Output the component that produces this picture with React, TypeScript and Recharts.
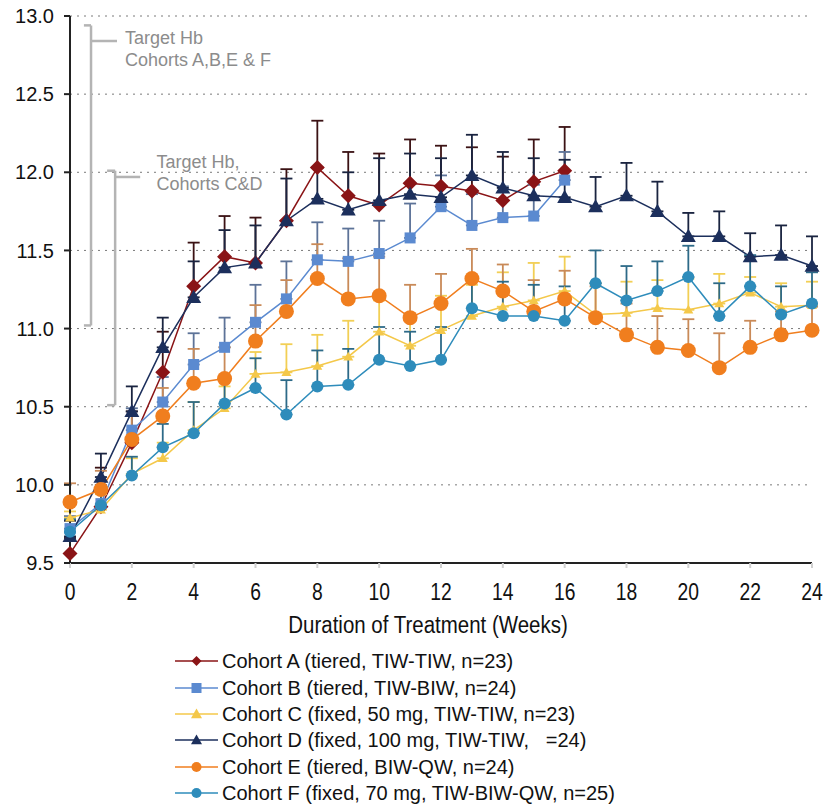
import React from 'react';
import {
  LineChart,
  Line,
  XAxis,
  YAxis,
  CartesianGrid,
  ErrorBar,
  ReferenceLine,
  ReferenceDot,
} from 'recharts';

document.body.style.margin = '0';

// weeks on treatment
const weeks = [0, 1, 2, 3, 4, 5, 6, 7, 8, 9, 10, 11, 12, 13, 14, 15, 16, 17, 18, 19, 20, 21, 22, 23, 24];
const xTicks = [0, 2, 4, 6, 8, 10, 12, 14, 16, 18, 20, 22, 24];
const yTicks = [9.5, 10, 10.5, 11, 11.5, 12, 12.5, 13];

// mean Hb (g/dL) per cohort; A and B stop at week 16
const cohortA = [9.56, 9.86, 10.27, 10.72, 11.27, 11.46, 11.42, 11.69, 12.03, 11.85, 11.79, 11.93, 11.91, 11.88, 11.82, 11.94, 12.01];
const cohortB = [9.72, 9.88, 10.35, 10.53, 10.77, 10.88, 11.04, 11.19, 11.44, 11.43, 11.48, 11.58, 11.78, 11.66, 11.71, 11.72, 11.95];
const cohortC = [9.79, 9.84, 10.07, 10.17, 10.35, 10.49, 10.71, 10.72, 10.76, 10.82, 10.98, 10.89, 10.99, 11.08, 11.14, 11.18, 11.24, 11.09, 11.1, 11.13, 11.12, 11.16, 11.23, 11.14, 11.15];
const cohortD = [9.67, 10.05, 10.47, 10.88, 11.2, 11.39, 11.42, 11.69, 11.83, 11.76, 11.82, 11.86, 11.84, 11.98, 11.9, 11.85, 11.84, 11.78, 11.85, 11.75, 11.59, 11.59, 11.46, 11.47, 11.4];
const cohortE = [9.89, 9.97, 10.29, 10.44, 10.65, 10.68, 10.92, 11.11, 11.32, 11.19, 11.21, 11.07, 11.16, 11.32, 11.24, 11.11, 11.19, 11.07, 10.96, 10.88, 10.86, 10.75, 10.88, 10.96, 10.99];
const cohortF = [9.7, 9.87, 10.06, 10.24, 10.33, 10.52, 10.62, 10.45, 10.63, 10.64, 10.8, 10.76, 10.8, 11.13, 11.08, 11.08, 11.05, 11.29, 11.18, 11.24, 11.33, 11.08, 11.27, 11.09, 11.16];

// upper error bar (one-sided)
const errA = [0.1, 0.25, 0.2, 0.26, 0.28, 0.26, 0.29, 0.33, 0.3, 0.28, 0.33, 0.28, 0.26, 0.28, 0.28, 0.27, 0.28];
const errB = [0.08, 0.12, 0.14, 0.16, 0.2, 0.19, 0.24, 0.24, 0.24, 0.21, 0.21, 0.22, 0.2, 0.2, 0.2, 0.2, 0.18];
const errC = [0.04, 0.1, 0.1, 0.1, 0.18, 0.14, 0.14, 0.18, 0.2, 0.23, 0.2, 0.2, 0.22, 0.2, 0.22, 0.24, 0.22, 0.2, 0.2, 0.18, 0.2, 0.19, 0.1, 0.15, 0.15];
const errD = [0.1, 0.15, 0.16, 0.19, 0.23, 0.24, 0.24, 0.27, 0.2, 0.24, 0.27, 0.26, 0.25, 0.26, 0.23, 0.24, 0.24, 0.19, 0.21, 0.19, 0.15, 0.16, 0.15, 0.19, 0.19];
const errE = [0.12, 0.12, 0.15, 0.18, 0.22, 0.2, 0.23, 0.2, 0.22, 0.26, 0.25, 0.21, 0.19, 0.19, 0.17, 0.2, 0.18, 0.2, 0.2, 0.2, 0.2, 0.22, 0.17, 0.15, 0.15];
const errF = [0.08, 0.12, 0.12, 0.15, 0.2, 0.18, 0.19, 0.22, 0.23, 0.23, 0.21, 0.22, 0.21, 0.2, 0.22, 0.2, 0.22, 0.21, 0.22, 0.19, 0.2, 0.21, 0.2, 0.18, 0.2];

const series = [
  { key: 'A', values: cohortA, err: errA, color: '#8a1416', errColor: '#3b1214', shape: 'diamond', size: 7.5, label: 'Cohort A (tiered, TIW-TIW, n=23)' },
  { key: 'B', values: cohortB, err: errB, color: '#5b8ad0', errColor: '#5d7398', shape: 'square', size: 5.5, label: 'Cohort B (tiered, TIW-BIW, n=24)' },
  { key: 'C', values: cohortC, err: errC, color: '#f4c84a', errColor: '#f2cf55', shape: 'triangle', size: 5, label: 'Cohort C (fixed, 50 mg, TIW-TIW, n=23)' },
  { key: 'D', values: cohortD, err: errD, color: '#1c2f5c', errColor: '#1a2440', shape: 'triangle', size: 7.5, label: 'Cohort D (fixed, 100 mg, TIW-TIW,   =24)' },
  { key: 'E', values: cohortE, err: errE, color: '#f07e1e', errColor: '#c98a58', shape: 'circle', size: 7.5, label: 'Cohort E (tiered, BIW-QW, n=24)' },
  { key: 'F', values: cohortF, err: errF, color: '#2e8cbb', errColor: '#2d6a88', shape: 'circle', size: 6, label: 'Cohort F (fixed, 70 mg, TIW-BIW-QW, n=25)' },
];

const data = weeks.map((w, i) => {
  const row: any = { week: w };
  series.forEach((s) => {
    if (s.values[i] != null) {
      row[s.key] = s.values[i];
      row['err' + s.key] = [0, s.err[i]];
    }
  });
  return row;
});

const GREY = '#b4b4b4';
const SANS = '"Liberation Sans", Arial, sans-serif';

const Marker = ({ shape, cx, cy, size, color }: any) => {
  if (shape === 'diamond') {
    return <polygon points={`${cx},${cy - size} ${cx + size},${cy} ${cx},${cy + size} ${cx - size},${cy}`} fill={color} />;
  }
  if (shape === 'square') {
    return <rect x={cx - size} y={cy - size} width={size * 2} height={size * 2} fill={color} />;
  }
  if (shape === 'triangle') {
    return <polygon points={`${cx},${cy - size} ${cx + size},${cy + size * 0.75} ${cx - size},${cy + size * 0.75}`} fill={color} />;
  }
  return <circle cx={cx} cy={cy} r={size} fill={color} />;
};

const makeDot = (s: any) => (props: any) => {
  const { cx, cy, index, value } = props;
  if (cx == null || cy == null || value == null) return <g key={`${s.key}-${index}`} />;
  return (
    <g key={`${s.key}-${index}`}>
      <Marker shape={s.shape} cx={cx} cy={cy} size={s.size} color={s.color} />
    </g>
  );
};

// x labels in the original are set in a narrow face
const XTick = ({ x, y, payload }: any) => (
  <g transform={`translate(${x},${y})`}>
    <text transform="scale(0.84,1)" textAnchor="middle" dy="0.72em" fill="#111" fontSize={23} fontFamily={SANS}>
      {payload.value}
    </text>
  </g>
);

const XTitle = ({ viewBox }: any) => {
  if (!viewBox) return null;
  const cx = viewBox.x + viewBox.width / 2 - 13;
  return (
    <g transform={`translate(${cx},${viewBox.y + 70})`}>
      <text transform="scale(0.89,1)" textAnchor="middle" fill="#111" fontSize={23} fontFamily={SANS}>
        Duration of Treatment (Weeks)
      </text>
    </g>
  );
};

const NoteText = ({ viewBox, lines }: any) => {
  if (!viewBox) return null;
  return (
    <text x={viewBox.x} y={viewBox.y} fill="#8c8c8c" fontSize={18} fontFamily={SANS}>
      {lines.map((t: string, i: number) => (
        <tspan key={i} x={viewBox.x} dy={i === 0 ? 0 : 22}>
          {t}
        </tspan>
      ))}
    </text>
  );
};

const App = () => {
  return (
    <div style={{ position: 'relative', width: 834, height: 807, background: '#fff' }}>
      <LineChart width={834} height={650} data={data} margin={{ top: 16, right: 22, left: 0, bottom: 7 }}>
        <CartesianGrid vertical={false} stroke="#7a7a7a" strokeDasharray="2 5" />
        <XAxis
          dataKey="week"
          type="number"
          domain={[0, 24]}
          ticks={xTicks}
          height={80}
          stroke="#222"
          strokeWidth={2}
          tickLine={{ stroke: '#d0d0d0' }}
          tickSize={5}
          tickMargin={15}
          tick={<XTick />}
          label={{ content: (p: any) => <XTitle {...p} /> }}
        />
        <YAxis
          type="number"
          domain={[9.5, 13]}
          ticks={yTicks}
          width={70}
          stroke="#222"
          strokeWidth={2}
          tickSize={6}
          tickMargin={10}
          tickFormatter={(v: number) => v.toFixed(1)}
          tick={{ fill: '#111', fontSize: 20, fontFamily: SANS }}
        />

        {/* target Hb brackets */}
        <ReferenceLine segment={[{ x: 0.68, y: 12.94 }, { x: 0.68, y: 11.02 }]} stroke={GREY} strokeWidth={2.5} ifOverflow="visible" />
        <ReferenceLine segment={[{ x: 0.45, y: 12.94 }, { x: 0.68, y: 12.94 }]} stroke={GREY} strokeWidth={2.5} ifOverflow="visible" />
        <ReferenceLine segment={[{ x: 0.45, y: 11.02 }, { x: 0.68, y: 11.02 }]} stroke={GREY} strokeWidth={2.5} ifOverflow="visible" />
        <ReferenceLine segment={[{ x: 0.68, y: 12.84 }, { x: 1.52, y: 12.84 }]} stroke={GREY} strokeWidth={2.5} ifOverflow="visible" />
        <ReferenceLine segment={[{ x: 1.46, y: 12.01 }, { x: 1.46, y: 10.51 }]} stroke={GREY} strokeWidth={2.5} ifOverflow="visible" />
        <ReferenceLine segment={[{ x: 1.2, y: 12.01 }, { x: 1.46, y: 12.01 }]} stroke={GREY} strokeWidth={2.5} ifOverflow="visible" />
        <ReferenceLine segment={[{ x: 1.2, y: 10.51 }, { x: 1.46, y: 10.51 }]} stroke={GREY} strokeWidth={2.5} ifOverflow="visible" />
        <ReferenceLine segment={[{ x: 1.46, y: 11.97 }, { x: 2.27, y: 11.97 }]} stroke={GREY} strokeWidth={2.5} ifOverflow="visible" />
        <ReferenceDot x={1.78} y={12.82} r={0} ifOverflow="visible" label={{ content: (p: any) => <NoteText {...p} lines={['Target Hb', 'Cohorts A,B,E & F']} /> }} />
        <ReferenceDot x={2.8} y={12.03} r={0} ifOverflow="visible" label={{ content: (p: any) => <NoteText {...p} lines={['Target Hb,', 'Cohorts C&D']} /> }} />

        {series.map((s) => (
          <Line
            key={s.key}
            dataKey={s.key}
            stroke={s.color}
            strokeWidth={1.5}
            dot={makeDot(s)}
            activeDot={false}
            isAnimationActive={false}
          >
            <ErrorBar dataKey={'err' + s.key} direction="y" width={6} stroke={s.errColor} strokeWidth={1.8} />
          </Line>
        ))}
      </LineChart>

      <div style={{ position: 'absolute', left: 175, top: 648, fontFamily: SANS, fontSize: 20, color: '#111' }}>
        {series.map((s) => (
          <div key={s.key} style={{ display: 'flex', alignItems: 'center', height: 26.4 }}>
            <svg width={47} height={20} style={{ display: 'block' }}>
              <line x1={0} y1={10} x2={43} y2={10} stroke={s.color} strokeWidth={1.5} />
              <Marker shape={s.shape} cx={21.5} cy={10} size={s.shape === 'triangle' ? 5.5 : 5} color={s.color} />
            </svg>
            <span style={{ whiteSpace: 'pre', lineHeight: '26px' }}>{s.label}</span>
          </div>
        ))}
      </div>
    </div>
  );
};

export default App;
